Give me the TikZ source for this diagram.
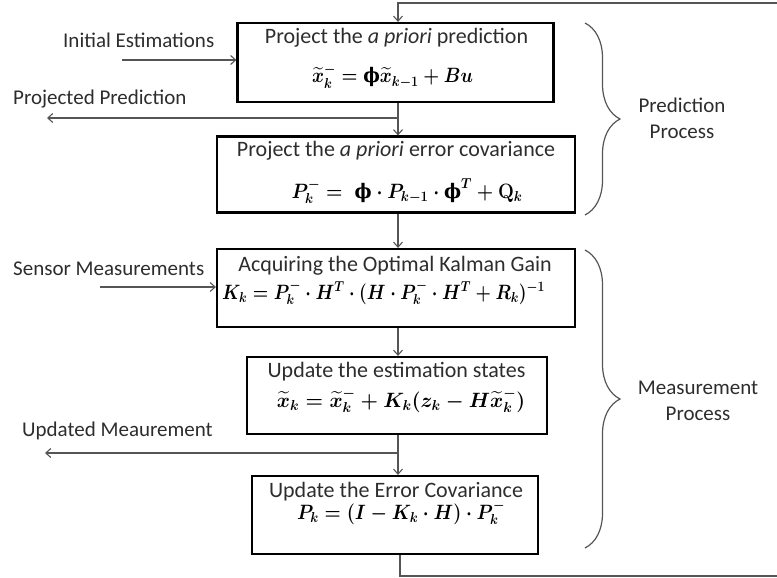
\documentclass[tikz,border=0pt]{standalone}
\usepackage{amsmath}
\usepackage{graphicx}
\usepackage{fontspec}
\setmainfont{Carlito}
\newfontfamily\phifont{DejaVu Serif}
\usetikzlibrary{arrows.meta,decorations.pathreplacing}
\newcommand{\uphi}{\mathord{\mbox{\phifont\bfseries ϕ}}}
\newcommand{\xt}{\widetilde{x}}
\newsavebox{\fboxA}
\newsavebox{\fboxB}
\newsavebox{\fboxC}
\newsavebox{\fboxD}
\newsavebox{\fboxE}
\newcommand{\fsz}{\fontsize{20}{24}\selectfont}
\definecolor{linegray}{RGB}{85,85,85}
\definecolor{txtgray}{RGB}{45,45,45}
\tikzset{
  procbox/.style={draw=black, line width=2.2pt, inner sep=0pt, anchor=center},
  boxtitle/.style={anchor=base, inner sep=0pt, font=\fontsize{22}{24}\selectfont, text=txtgray},
  boxformula/.style={anchor=base, inner sep=0pt},
  sidelabel/.style={anchor=base west, inner sep=0pt, font=\fontsize{21}{24}\selectfont, text=txtgray},
  grouplabel/.style={anchor=center, inner sep=0pt, align=center, font=\fontsize{21}{26}\selectfont, text=txtgray},
  conn/.style={draw=linegray, line width=1.3pt},
  arr/.style={conn, -{Straight Barb[length=5pt,width=9pt,line width=1.1pt]}},
  gbrace/.style={draw=linegray, line width=1.2pt, decorate, decoration={brace, amplitude=35pt}}
}
\begin{document}
\sbox{\fboxA}{\resizebox{161pt}{\height}{\fsz\boldmath$\xt_k^{-} = \uphi\xt_{k-1} + Bu$}}%
\sbox{\fboxB}{\resizebox{231pt}{\height}{\fsz\boldmath$P_k^{-} = \;\uphi\cdot P_{k-1}\cdot \uphi^{T} + \mathbf{Q}_k$}}%
\sbox{\fboxC}{\resizebox{323pt}{\height}{\fsz\boldmath$K_k = P_k^{-}\cdot H^{T}\cdot (H\cdot P_k^{-}\cdot H^{T} + R_k)^{-1}$}}%
\sbox{\fboxD}{\resizebox{248pt}{\height}{\fsz\boldmath$\xt_k = \xt_k^{-} + K_k(z_k - H\xt_k^{-})$}}%
\sbox{\fboxE}{\resizebox{208pt}{\height}{\fsz\boldmath$P_k = (I - K_k\cdot H)\cdot P_k^{-}$}}%
\begin{tikzpicture}[x=1pt, y=-1pt]
\useasboundingbox (0,0) rectangle (777,578);
\clip (0,0) rectangle (777,578);
% boxes
\node[procbox, minimum width=316pt, minimum height=79pt] (b1) at (395.5,62.5) {};
\node[procbox, minimum width=358pt, minimum height=76pt] (b2) at (396,174.5) {};
\node[procbox, minimum width=358pt, minimum height=78pt] (b3) at (396,288) {};
\node[procbox, minimum width=300pt, minimum height=77pt] (b4) at (397,395.5) {};
\node[procbox, minimum width=286pt, minimum height=78pt] (b5) at (395,515) {};
% titles
\node[boxtitle] (t1) at (396.5,44) {Project the \textit{a priori} prediction};
\node[boxtitle] (t2) at (396,157) {Project the \textit{a priori} error covariance};
\node[boxtitle] (t3) at (395,271) {Acquiring the Optimal Kalman Gain};
\node[boxtitle] (t4) at (396.5,377) {Update the estimation states};
\node[boxtitle] (t5) at (396,497) {Update the Error Covariance};
% formulas
\node[boxformula] (f1) at (392.5,83) {\usebox{\fboxA}};
\node[boxformula] (f2) at (407,198) {\usebox{\fboxB}};
\node[boxformula] (f3) at (383.5,299) {\usebox{\fboxC}};
\node[boxformula] (f4) at (401,407) {\usebox{\fboxD}};
\node[boxformula] (f5) at (401,519) {\usebox{\fboxE}};
% side labels
\node[sidelabel] (l1) at (63,48) {Initial Estimations};
\node[sidelabel] (l2) at (13,104) {Projected Prediction};
\node[sidelabel] (l3) at (13,275) {Sensor Measurements};
\node[sidelabel] (l4) at (22,436) {Updated Meaurement};
% group labels
\node[grouplabel] (g1) at (682,118) {Prediction\\Process};
\node[grouplabel] (g2) at (698,401) {Measurement\\Process};
% coordinates
\coordinate (inS) at (122,60);
\coordinate (inM) at (100,287);
\coordinate (j1) at (398,118);
\coordinate (o1) at (47,118);
\coordinate (j2) at (398,453);
\coordinate (o2) at (45,453);
\coordinate (lb) at (400,576);
\coordinate (rb) at (795,576);
\coordinate (rt) at (795,3);
\coordinate (lt) at (398,3);
% connectors
\draw[arr] (inS) -- (inS -| b1.west);
\draw[arr] (inM) -- (inM -| b3.west);
\draw[arr] (b1.south -| j1) -- (b2.north -| j1);
\draw[arr] (j1) -- (o1);
\draw[arr] (b2.south -| j1) -- (b3.north -| j1);
\draw[arr] (b3.south -| j1) -- (b4.north -| j1);
\draw[arr] (b4.south -| j2) -- (b5.north -| j2);
\draw[arr] (j2) -- (o2);
\draw[arr] (b5.south -| lb) -- (lb) -- (rb) -- (rt) -- (lt) -- (b1.north -| lt);
% braces
\draw[gbrace] (585,23) -- (585,215);
\draw[gbrace] (585,250) -- (585,548);
\end{tikzpicture}
\end{document}
